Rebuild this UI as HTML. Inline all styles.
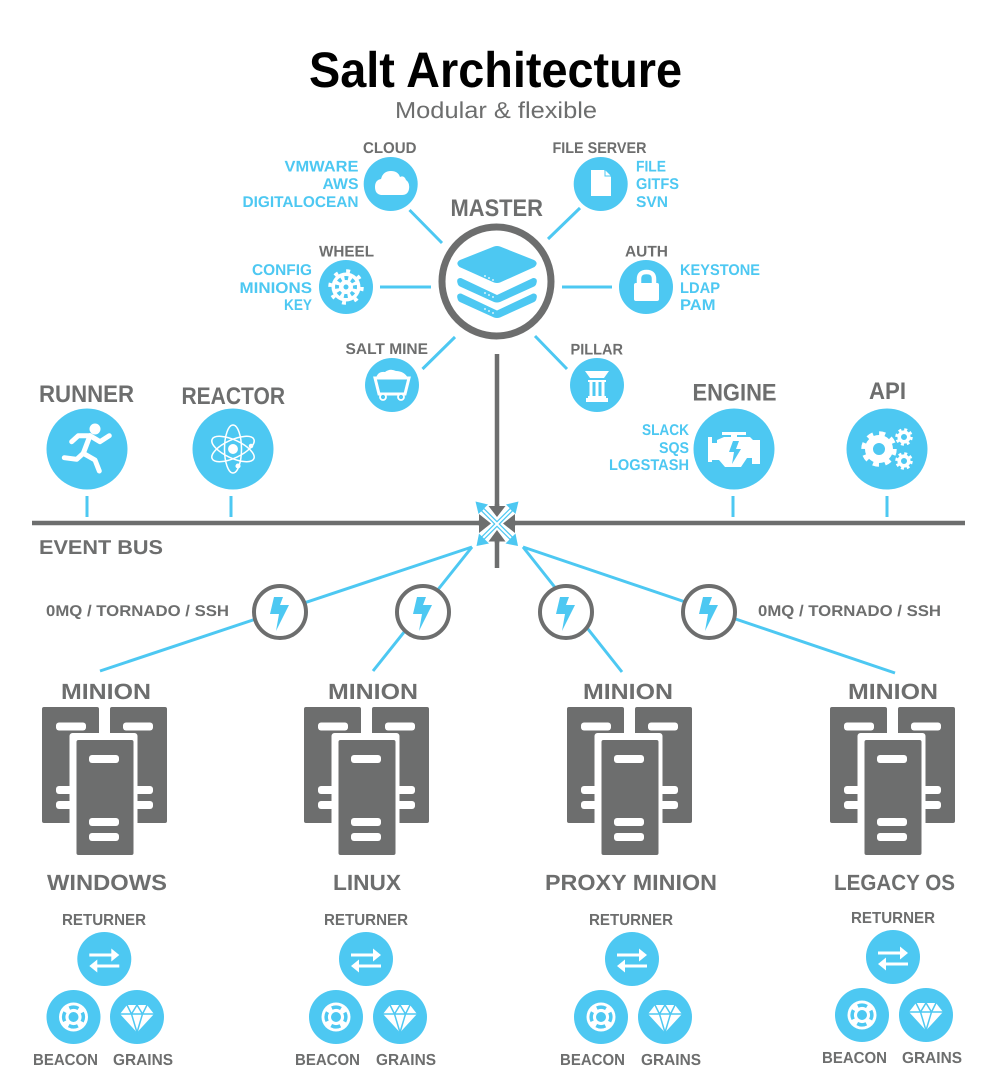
<!DOCTYPE html>
<html><head><meta charset="utf-8"><title>Salt Architecture</title>
<style>
html,body{margin:0;padding:0;background:#fff;width:996px;height:1092px;overflow:hidden}
svg{display:block;filter:blur(.35px)}
text{font-family:"Liberation Sans",sans-serif;font-weight:bold;fill:#6d6e6e;text-rendering:geometricPrecision}
.b text,text.b{fill:#4dc8f2}
.c{fill:#4dc8f2}
.w{fill:#fff}
.sp{stroke:#4dc8f2;stroke-width:3;fill:none}
</style></head><body>
<svg xmlns="http://www.w3.org/2000/svg" width="996" height="1092" viewBox="0 0 996 1092">
<defs>
<g id="server">
<rect x="0" y="0" width="57" height="116" rx="2" fill="#6d6e6e"/>
<rect x="68" y="0" width="57" height="116" rx="2" fill="#6d6e6e"/>
<rect x="14" y="15.500" width="30" height="8" rx="3" fill="#fff"/>
<rect x="81" y="15.500" width="30" height="8" rx="3" fill="#fff"/>
<rect x="14" y="79" width="30" height="8" rx="3" fill="#fff"/>
<rect x="14" y="94" width="30" height="8" rx="3" fill="#fff"/>
<rect x="81" y="79" width="30" height="8" rx="3" fill="#fff"/>
<rect x="81" y="94" width="30" height="8" rx="3" fill="#fff"/>
<rect x="27.500" y="26" width="68" height="130" rx="3" fill="#fff"/>
<rect x="34.500" y="33" width="57" height="115" rx="2" fill="#6d6e6e"/>
<rect x="47" y="48" width="30" height="8" rx="3" fill="#fff"/>
<rect x="47" y="111" width="30" height="8" rx="3" fill="#fff"/>
<rect x="47" y="126" width="30" height="8" rx="3" fill="#fff"/>
</g>
<g id="ret">
<circle r="27" class="c"/>
<path d="M-15 -5.500H7V-10.500L15 -4L7 2.500V-2.500H-15Z" class="w"/>
<path d="M15 5.500H-7V.5L-15 7L-7 13.500V8.500H15Z" class="w"/>
</g>
<g id="bea">
<circle r="27" class="c"/>
<circle r="14.500" class="w"/>
<circle r="9.800" fill="none" stroke="#4dc8f2" stroke-width="3.500" stroke-dasharray="9.400 6" transform="rotate(-27)"/>
<circle r="5" class="c"/>
</g>
<g id="gra">
<circle r="27" class="c"/>
<path d="M-10 -12H10L17 -3L0 15.500L-17 -3Z" class="w"/>
<path d="M-17 -3H17M-10 -12L-5.500 -3L0 15.500L5.500 -3L10 -12M-5.500 -3L0 -12L5.500 -3" stroke="#4dc8f2" stroke-width="1.500" fill="none"/>
</g>
<polygon id="bolt" points="-6,-15 3,-15 0,-7 9,-7 -4,19 -1,2 -10,2" class="c"/>
<g id="node"><circle r="26" fill="#fff" stroke="#6d6e6e" stroke-width="4"/><use href="#bolt"/></g>
</defs>

<!-- Title -->
<text x="309" y="87" font-size="50" textLength="373" lengthAdjust="spacingAndGlyphs" style="fill:#000">Salt Architecture</text>
<text x="395" y="118" font-size="23" textLength="202" lengthAdjust="spacingAndGlyphs" style="font-weight:normal;fill:#6d6e6e">Modular &amp; flexible</text>

<!-- spokes -->
<g class="sp">
<path d="M409.500 210L442 243"/><path d="M580 208L548 239"/>
<path d="M380 287H431"/><path d="M562 287H612"/>
<path d="M455 337L422.500 369"/><path d="M535 336L567 369"/>
</g>

<!-- master -->
<circle cx="496.500" cy="281.500" r="54.500" fill="#fff" stroke="#6d6e6e" stroke-width="7"/>
<path d="M457.500 294Q456 289 461 289L497 306L533 289Q538 289 536.500 294Q536 297 533 298L500 313Q497 314 494 313L461 298Q458 297 457.500 294Z" class="c" transform="translate(0,-11)"/>
<path d="M457.500 294Q456 289 461 289L497 306L533 289Q538 289 536.500 294Q536 297 533 298L500 313Q497 314 494 313L461 298Q458 297 457.500 294Z" class="c" transform="translate(0,4.500)"/>
<path d="M494 246.500Q497 245.500 500 246.500L534 260Q539 263 534.500 267L500 282.500Q497 283.500 494 282.500L459.500 267Q455 263 460 260Z" class="c"/>
<g fill="#fff"><circle cx="485" cy="276" r=".9"/><circle cx="489" cy="278" r=".9"/><circle cx="493" cy="280" r=".9"/><circle cx="485" cy="293" r=".9"/><circle cx="489" cy="295" r=".9"/><circle cx="493" cy="297" r=".9"/><circle cx="485" cy="309" r=".9"/><circle cx="489" cy="311" r=".9"/><circle cx="493" cy="313" r=".9"/></g>

<!-- satellite circles -->
<g class="c">
<circle cx="390.700" cy="184" r="27"/><circle cx="600.700" cy="184" r="27"/>
<circle cx="346" cy="287" r="27"/><circle cx="646" cy="287" r="27"/>
<circle cx="392" cy="385" r="27"/><circle cx="597" cy="385" r="27"/>
<circle cx="87" cy="449" r="40.500"/><circle cx="233" cy="449" r="40.500"/>
<circle cx="734" cy="449" r="40.500"/><circle cx="887" cy="449" r="40.500"/>
</g>

<!-- cloud -->
<path d="M381 195Q375 194 375 187Q375 180 381 179Q383 171 391 171Q398 171 400 177Q404 175 406 180Q410 183 409 189Q408 195 402 195Z" class="w"/>
<!-- file -->
<path d="M591 170H604L611 177V196H591Z" class="w"/><path d="M604.500 169.500L611.500 176.500H604.500Z" fill="#4dc8f2"/><path d="M605.500 170.500L610.500 175.500H605.500Z" class="w"/>
<!-- wheel -->
<g transform="translate(346,287)">
<circle r="14.500" class="w"/>
<circle r="16" fill="none" stroke="#fff" stroke-width="3.500" stroke-dasharray="4 8.570"/>
<circle r="9" fill="none" stroke="#4dc8f2" stroke-width="4" stroke-dasharray="3.600 3.470" transform="rotate(-11)"/>
<circle r="2.500" class="c"/>
</g>
<!-- lock -->
<path d="M639 284V279Q639 272 646.500 272Q654 272 654 279V284" fill="none" stroke="#fff" stroke-width="4.500"/>
<rect x="634" y="283" width="25" height="18" rx="2" class="w"/>
<!-- cart -->
<path d="M376 378Q378 371 385 372Q390 368 396 371Q404 371 408 378Z" class="w"/>
<path d="M376 379H408L404.500 393H379.500Z" class="c"/><path d="M375 378H409L405 394H379Z" fill="none" stroke="#fff" stroke-width="3"/>
<circle cx="383" cy="397" r="3" fill="#4dc8f2" stroke="#fff" stroke-width="1.800"/><circle cx="401" cy="397" r="3" fill="#4dc8f2" stroke="#fff" stroke-width="1.800"/>
<!-- pillar -->
<path d="M585 371H609L604 378H590Z" class="w"/><rect x="588" y="380" width="18" height="2" class="w"/>
<g class="w"><rect x="589.500" y="381" width="3" height="17"/><rect x="595.500" y="381" width="3" height="17"/><rect x="601.500" y="381" width="3" height="17"/></g>
<rect x="588" y="396" width="18" height="2" class="w"/><rect x="586" y="398" width="22" height="4" class="w"/>
<!-- runner -->
<circle cx="95" cy="429" r="5.500" class="w"/>
<g fill="none" stroke="#fff" stroke-width="5" stroke-linecap="round" stroke-linejoin="round">
<path d="M71.700 441.700L78.300 435.700H90"/><path d="M90 435.700L100 441.700L109.300 435.700"/>
<path d="M90 435.700L83.300 453.300"/><path d="M83.300 453.300L76.700 459.300L64.300 457.700"/><path d="M83.300 453.300L95 460L99.300 471"/>
</g>
<!-- atom -->
<g transform="translate(233,449)" fill="none" stroke="#fff" stroke-width="1.500">
<ellipse rx="23" ry="9" transform="rotate(25)"/><ellipse rx="23" ry="9" transform="rotate(-25)"/><ellipse rx="8.500" ry="24"/>
<circle r="4.200" fill="#fff"/><circle cx="5" cy="17" r="1.800" fill="#fff"/><circle cx="18" cy="-3" r="1.500" fill="#fff"/>
</g>
<!-- engine -->
<path d="M717 440L724 437H731V435H722V432H746V435H737V437H750L753 440H760V464H752V458H747L741 467H725L719 460H712V462H708V437H712V443H717Z" class="w"/>
<polygon points="733,441 739,441 736,449 741,449 732,464 734,452 729,452" class="c"/>
<!-- gears -->
<g fill="none" stroke="#fff">
<circle cx="879" cy="449" r="10" stroke-width="8"/>
<circle cx="879" cy="449" r="15" stroke-width="5.500" stroke-dasharray="5.900 5.880"/>
<circle cx="904" cy="437" r="4.800" stroke-width="3.600"/>
<circle cx="904" cy="437" r="7.500" stroke-width="2.500" stroke-dasharray="3 2.890"/>
<circle cx="904" cy="461" r="4.800" stroke-width="3.600"/>
<circle cx="904" cy="461" r="7.500" stroke-width="2.500" stroke-dasharray="3 2.890"/>
</g>

<!-- Ticks -->
<g stroke="#4dc8f2" stroke-width="3">
<path d="M87 496V517M231 496V517M733 496V517M887 496V517"/>
</g>

<!-- connectors to minions -->
<g stroke="#4dc8f2" stroke-width="3" fill="none">
<path d="M472 547L100 671"/><path d="M472 547L373 671"/>
<path d="M523 547L622 672"/><path d="M523 547L895 673"/>
</g>
<use href="#node" x="280" y="612"/><use href="#node" x="423" y="612"/><use href="#node" x="566" y="612"/><use href="#node" x="709" y="612"/>

<!-- bus -->
<path d="M32 523H965" stroke="#6d6e6e" stroke-width="4.500" fill="none"/>
<path d="M497 354V568" stroke="#6d6e6e" stroke-width="4.500" fill="none"/>
<!-- hub -->
<rect x="481" y="507.500" width="32" height="32" fill="#fff"/>
<path d="M478 523H486M516 523H508M497 504V512M497 543V535" stroke="#6d6e6e" stroke-width="4.500"/>
<g fill="#6d6e6e">
<polygon points="479,514 491,523.500 479,533"/><polygon points="515,514 503,523.500 515,533"/>
<polygon points="488.500,506 505.500,506 497,517"/><polygon points="488.500,541.500 505.500,541.500 497,530"/>
</g>
<g fill="none" stroke="#fff" stroke-width="6.500"><path d="M482 509L512 539M512 509L482 539"/></g>
<g fill="none" stroke="#4dc8f2" stroke-width="4.500"><path d="M481 508L513 540M513 508L481 540"/></g>
<g fill="none" stroke="#fff" stroke-width="2"><path d="M483 510L511 538M511 510L483 538"/></g>
<g class="c">
<polygon points="475.500,501.500 488,504.500 478.500,514"/><polygon points="518.500,501.500 506,504.500 515.500,514"/>
<polygon points="476.500,546 479,533.500 489,543.500"/><polygon points="518,546 515.500,533.500 505.500,543.500"/>
</g>

<!-- servers -->
<use href="#server" x="42" y="707"/><use href="#server" x="304" y="707"/><use href="#server" x="567" y="707"/><use href="#server" x="830" y="707"/>

<!-- bottom circles -->
<use href="#ret" x="104.300" y="959"/><use href="#bea" x="73.500" y="1017"/><use href="#gra" x="137" y="1017"/>
<use href="#ret" x="366" y="959"/><use href="#bea" x="336" y="1017"/><use href="#gra" x="400" y="1017"/>
<use href="#ret" x="632" y="959"/><use href="#bea" x="601" y="1017"/><use href="#gra" x="665" y="1017"/>
<use href="#ret" x="893" y="957"/><use href="#bea" x="862" y="1015"/><use href="#gra" x="926" y="1015"/>

<!-- gray labels -->
<text x="363" y="153" textLength="53.500" lengthAdjust="spacingAndGlyphs" font-size="15.500">CLOUD</text>
<text x="552.500" y="153" textLength="94" lengthAdjust="spacingAndGlyphs" font-size="15.500">FILE SERVER</text>
<text x="319" y="256.500" textLength="55" lengthAdjust="spacingAndGlyphs" font-size="15.500">WHEEL</text>
<text x="625" y="256.500" textLength="43" lengthAdjust="spacingAndGlyphs" font-size="15.500">AUTH</text>
<text x="345.500" y="354" textLength="82.500" lengthAdjust="spacingAndGlyphs" font-size="15.500">SALT MINE</text>
<text x="570.500" y="354.500" textLength="52.500" lengthAdjust="spacingAndGlyphs" font-size="15.500">PILLAR</text>
<text x="450.500" y="216" font-size="24" textLength="92.500" lengthAdjust="spacingAndGlyphs">MASTER</text>
<text x="39" y="402" font-size="24" textLength="95" lengthAdjust="spacingAndGlyphs">RUNNER</text>
<text x="181.500" y="404" font-size="24" textLength="103.500" lengthAdjust="spacingAndGlyphs">REACTOR</text>
<text x="692.500" y="400.500" font-size="24" textLength="84" lengthAdjust="spacingAndGlyphs">ENGINE</text>
<text x="869" y="399" font-size="24" textLength="37" lengthAdjust="spacingAndGlyphs">API</text>
<text x="39" y="554" font-size="20" textLength="124" lengthAdjust="spacingAndGlyphs">EVENT BUS</text>
<text x="46" y="616" font-size="15.500" textLength="183" lengthAdjust="spacingAndGlyphs">0MQ / TORNADO / SSH</text>
<text x="758" y="616" font-size="15.500" textLength="183" lengthAdjust="spacingAndGlyphs">0MQ / TORNADO / SSH</text>

<!-- blue labels -->
<g class="b" font-size="15.500">
<text x="284.500" y="171.500" textLength="74" lengthAdjust="spacingAndGlyphs">VMWARE</text>
<text x="322.500" y="189" textLength="36" lengthAdjust="spacingAndGlyphs">AWS</text>
<text x="242.500" y="207" textLength="116" lengthAdjust="spacingAndGlyphs">DIGITALOCEAN</text>
<text x="636" y="171.500" textLength="30" lengthAdjust="spacingAndGlyphs">FILE</text>
<text x="636" y="189" textLength="43" lengthAdjust="spacingAndGlyphs">GITFS</text>
<text x="636" y="207" textLength="32" lengthAdjust="spacingAndGlyphs">SVN</text>
<text x="252" y="275" textLength="60" lengthAdjust="spacingAndGlyphs">CONFIG</text>
<text x="239.500" y="293" textLength="72.500" lengthAdjust="spacingAndGlyphs">MINIONS</text>
<text x="284" y="310" textLength="28" lengthAdjust="spacingAndGlyphs">KEY</text>
<text x="680" y="275" textLength="80" lengthAdjust="spacingAndGlyphs">KEYSTONE</text>
<text x="680" y="293" textLength="40" lengthAdjust="spacingAndGlyphs">LDAP</text>
<text x="680" y="310" textLength="35.500" lengthAdjust="spacingAndGlyphs">PAM</text>
<text x="642" y="435" textLength="47" lengthAdjust="spacingAndGlyphs">SLACK</text>
<text x="659" y="453" textLength="30" lengthAdjust="spacingAndGlyphs">SQS</text>
<text x="609" y="470" textLength="80" lengthAdjust="spacingAndGlyphs">LOGSTASH</text>
</g>

<!-- minion labels -->
<g font-size="22">
<text x="61" y="699" textLength="90" lengthAdjust="spacingAndGlyphs">MINION</text>
<text x="328" y="699" textLength="90" lengthAdjust="spacingAndGlyphs">MINION</text>
<text x="583" y="699" textLength="90" lengthAdjust="spacingAndGlyphs">MINION</text>
<text x="848" y="699" textLength="90" lengthAdjust="spacingAndGlyphs">MINION</text>
<text x="47" y="890" textLength="120" lengthAdjust="spacingAndGlyphs">WINDOWS</text>
<text x="333" y="890" textLength="68" lengthAdjust="spacingAndGlyphs">LINUX</text>
<text x="545" y="890" textLength="172" lengthAdjust="spacingAndGlyphs">PROXY MINION</text>
<text x="834" y="890" textLength="121" lengthAdjust="spacingAndGlyphs">LEGACY OS</text>
</g>
<g font-size="16">
<text x="62" y="925" textLength="84" lengthAdjust="spacingAndGlyphs">RETURNER</text>
<text x="324" y="925" textLength="84" lengthAdjust="spacingAndGlyphs">RETURNER</text>
<text x="589" y="925" textLength="84" lengthAdjust="spacingAndGlyphs">RETURNER</text>
<text x="851" y="923" textLength="84" lengthAdjust="spacingAndGlyphs">RETURNER</text>
<text x="33" y="1065" textLength="65" lengthAdjust="spacingAndGlyphs">BEACON</text>
<text x="113" y="1065" textLength="60" lengthAdjust="spacingAndGlyphs">GRAINS</text>
<text x="295" y="1065" textLength="65" lengthAdjust="spacingAndGlyphs">BEACON</text>
<text x="376" y="1065" textLength="60" lengthAdjust="spacingAndGlyphs">GRAINS</text>
<text x="560" y="1065" textLength="65" lengthAdjust="spacingAndGlyphs">BEACON</text>
<text x="641" y="1065" textLength="60" lengthAdjust="spacingAndGlyphs">GRAINS</text>
<text x="822" y="1063" textLength="65" lengthAdjust="spacingAndGlyphs">BEACON</text>
<text x="902" y="1063" textLength="60" lengthAdjust="spacingAndGlyphs">GRAINS</text>
</g>
</svg>
</body></html>
